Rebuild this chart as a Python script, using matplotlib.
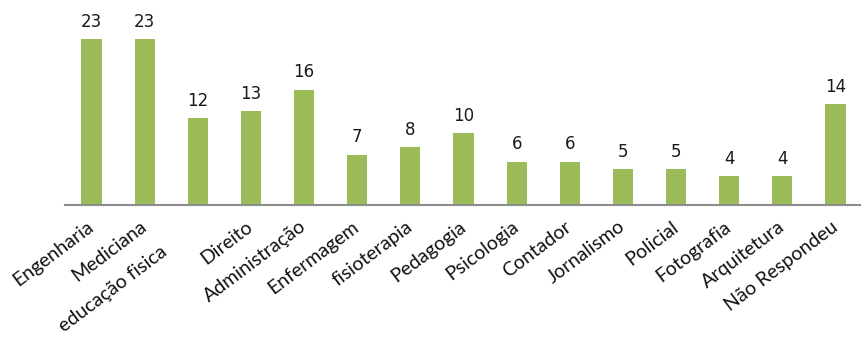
import numpy as np
import matplotlib
matplotlib.use("Agg")
import matplotlib.pyplot as plt
from matplotlib.transforms import ScaledTranslation

cursos = ["Engenharia", "Mediciana", "educação fisica", "Direito", "Administração",
          "Enfermagem", "fisioterapia", "Pedagogia", "Psicologia", "Contador",
          "Jornalismo", "Policial", "Fotografia", "Arquitetura", "Não Respondeu"]
valores = [23, 23, 12, 13, 16, 7, 8, 10, 6, 6, 5, 5, 4, 4, 14]

GREEN = "#9BBB59"
ANGLE = 37

fig = plt.figure(figsize=(8.62, 3.38), dpi=100)
ax = fig.add_axes([0.0754, 0.393, 0.9246, 0.592])

x = np.arange(len(cursos))
bars = ax.bar(x, valores, width=0.38, color=GREEN, zorder=2)
ax.bar_label(bars, padding=6, fontsize=12, family="DejaVu Sans", color="#1a1a1a")

ax.set_xlim(-0.5, len(cursos) - 0.5)
ax.set_ylim(0, 27.7)
ax.set_yticks([])
for s in ("top", "right", "left"):
    ax.spines[s].set_visible(False)
ax.spines["bottom"].set_color("#8C8C8C")
ax.spines["bottom"].set_linewidth(1.5)

ax.set_xticks(x)
ax.set_xticklabels(cursos, rotation=ANGLE, ha="right", va="center",
                   rotation_mode="anchor", fontsize=14, family="Lato", color="#111111")
ax.tick_params(axis="x", length=0, pad=14)

# the long label sits further down along its own direction
rad = np.deg2rad(ANGLE)
lbl = ax.get_xticklabels()[2]
d = 30 / 72
lbl.set_transform(lbl.get_transform() +
                  ScaledTranslation(-d * np.cos(rad), -d * np.sin(rad), fig.dpi_scale_trans))

fig.savefig("out.png", dpi=100)
